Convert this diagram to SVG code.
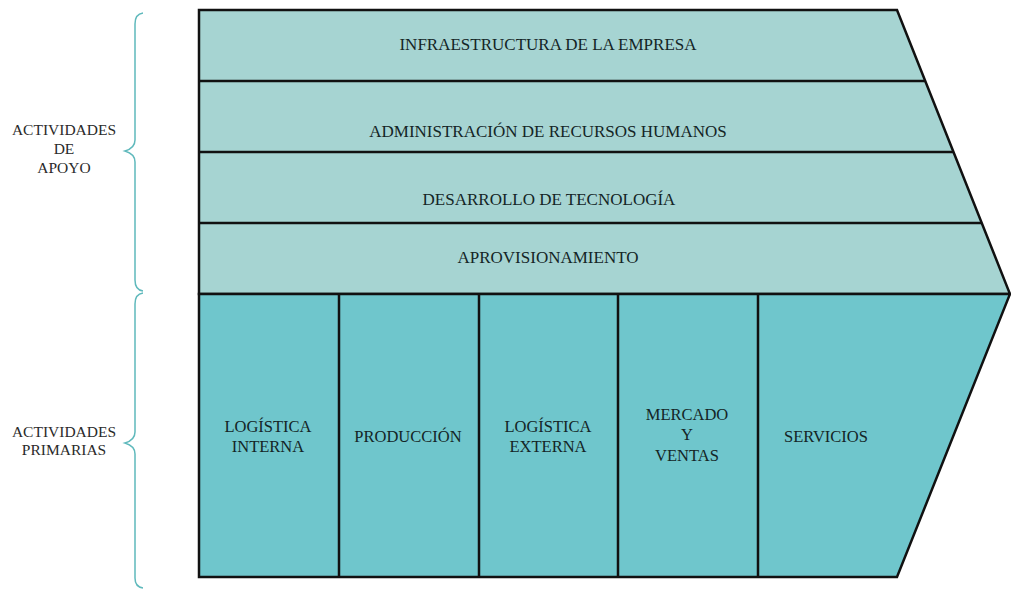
<svg xmlns="http://www.w3.org/2000/svg" width="1011" height="589" viewBox="0 0 1011 589">
<style>
.sup{fill:#a6d4d2;stroke:#111;stroke-width:2.5;stroke-linejoin:miter}
.pri{fill:#6fc6cc;stroke:#111;stroke-width:2.5}
.div{stroke:#111;stroke-width:2.5;fill:none}
.t{fill:#142526;text-anchor:middle}
.l{fill:#2a2a2a;text-anchor:middle}
.br{fill:none;stroke:#5fb9bc;stroke-width:1.5}
</style>
<rect width="1011" height="589" fill="#fff"/>
<g id="support">
<polygon class="sup" points="199,10 897,10 1010,294 199,294"/>
<line class="div" x1="199" y1="81" x2="925" y2="81"/>
<line class="div" x1="199" y1="152" x2="953" y2="152"/>
<line class="div" x1="199" y1="223" x2="982" y2="223"/>
</g>
<g id="primary">
<polygon class="pri" points="199,294 1010,294 897,577 199,577"/>
<line class="div" x1="339" y1="294" x2="339" y2="577"/>
<line class="div" x1="479" y1="294" x2="479" y2="577"/>
<line class="div" x1="618" y1="294" x2="618" y2="577"/>
<line class="div" x1="758" y1="294" x2="758" y2="577"/>
</g>
<g id="labels-support" font-family="Liberation Serif, Times New Roman, serif" font-size="17">
<text class="t" x="548" y="50">INFRAESTRUCTURA DE LA EMPRESA</text>
<text class="t" x="548" y="137">ADMINISTRACIÓN DE RECURSOS HUMANOS</text>
<text class="t" x="549" y="205">DESARROLLO DE TECNOLOGÍA</text>
<text class="t" x="548" y="263">APROVISIONAMIENTO</text>
</g>
<g id="labels-primary" font-family="Liberation Serif, Times New Roman, serif" font-size="16.5">
<text class="t" x="268" y="432">LOGÍSTICA</text>
<text class="t" x="268" y="452">INTERNA</text>
<text class="t" x="408" y="442">PRODUCCIÓN</text>
<text class="t" x="548" y="432">LOGÍSTICA</text>
<text class="t" x="548" y="452">EXTERNA</text>
<text class="t" x="687" y="420">MERCADO</text>
<text class="t" x="687" y="440">Y</text>
<text class="t" x="687" y="461">VENTAS</text>
<text class="t" x="826" y="442">SERVICIOS</text>
</g>
<g id="brace-apoyo" font-family="Liberation Serif, Times New Roman, serif" font-size="15.5">
<path class="br" d="M143,13 Q135,14 135,24 L135,140 Q135,148 125,151 Q135,154 135,162 L135,280 Q135,290 143,291"/>
<text class="l" x="64" y="135">ACTIVIDADES</text>
<text class="l" x="64" y="154">DE</text>
<text class="l" x="64" y="173">APOYO</text>
</g>
<g id="brace-primarias" font-family="Liberation Serif, Times New Roman, serif" font-size="15.5">
<path class="br" d="M143,293 Q135,294 135,304 L135,432 Q135,440 125,443 Q135,446 135,454 L135,578 Q135,587 143,588"/>
<text class="l" x="64" y="437">ACTIVIDADES</text>
<text class="l" x="64" y="455">PRIMARIAS</text>
</g>
</svg>
